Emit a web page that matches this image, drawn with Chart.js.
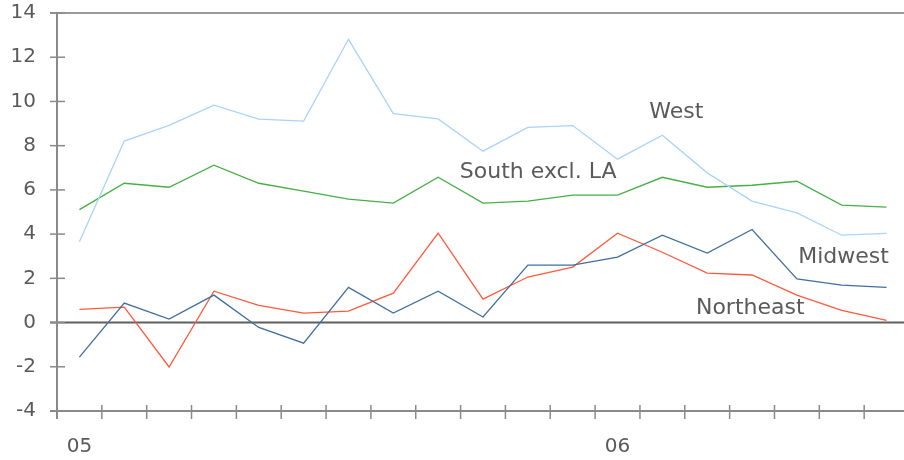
<!DOCTYPE html>
<html>
<head>
<meta charset="utf-8">
<script src="https://cdn.jsdelivr.net/npm/chart.js@4"></script>
<style>
  html, body { margin: 0; padding: 0; background: #fff; overflow: hidden; }
  #wrap { width: 909px; height: 460px; position: relative; }
</style>
</head>
<body>
<div id="wrap"><canvas id="c"></canvas></div>
<script>
// Months Jan 2005 .. Jul 2006
const categories = ['2005-01','2005-02','2005-03','2005-04','2005-05','2005-06','2005-07','2005-08','2005-09','2005-10','2005-11','2005-12',
                    '2006-01','2006-02','2006-03','2006-04','2006-05','2006-06','2006-07'];
const xTickLabels = ['05','','','','','','','','','','','','06','','','','','',''];
const yTicks = [-4, -2, 0, 2, 4, 6, 8, 10, 12, 14];

const west      = [3.65, 8.21, 8.92, 9.83, 9.20, 9.11, 12.81, 9.45, 9.21, 7.75, 8.83, 8.91, 7.39, 8.47, 6.77, 5.49, 4.96, 3.95, 4.03];
const south     = [5.11, 6.30, 6.12, 7.12, 6.30, 5.94, 5.58, 5.40, 6.57, 5.40, 5.49, 5.76, 5.76, 6.57, 6.12, 6.21, 6.39, 5.31, 5.22];
const midwest   = [-1.56, 0.88, 0.16, 1.24, -0.22, -0.93, 1.59, 0.43, 1.42, 0.25, 2.60, 2.60, 2.96, 3.95, 3.14, 4.21, 1.97, 1.69, 1.59];
const northeast = [0.60, 0.70, -2.01, 1.42, 0.78, 0.43, 0.52, 1.33, 4.04, 1.06, 2.06, 2.51, 4.04, 3.18, 2.24, 2.15, 1.24, 0.55, 0.10];

const seriesNames = ['West', 'South excl. LA', 'Midwest', 'Northeast'];
// label anchor positions in data coordinates (category index, value)
const labelX = [13.31, 10.23, 17.04, 14.96];
const labelY = [9.53, 6.81, 2.96, 0.66];

const colors = ['#a9d3fb', '#45b045', '#3f6f9e', '#ff5a3c'];
const TEXT = '#5a5a5a';
const FONT = '"DejaVu Sans", Verdana, sans-serif';

const axisPlugin = {
  id: 'axisDeco',
  beforeDatasetsDraw(chart) {
    const ctx = chart.ctx;
    const xs = chart.scales.x, ys = chart.scales.y;
    const ca = chart.chartArea;
    ctx.save();
    ctx.lineCap = 'butt';
    ctx.strokeStyle = '#9a9a9a';
    ctx.lineWidth = 2;
    const yTop = ys.getPixelForValue(yTicks[yTicks.length - 1]);
    ctx.beginPath(); ctx.moveTo(ca.left - 7, yTop); ctx.lineTo(chart.width + 10, yTop); ctx.stroke();
    ctx.strokeStyle = '#5f5f5f';
    const y0 = ys.getPixelForValue(0);
    ctx.beginPath(); ctx.moveTo(ca.left - 7, y0); ctx.lineTo(chart.width + 10, y0); ctx.stroke();
    ctx.strokeStyle = '#8a8a8a';
    const yBot = ys.getPixelForValue(yTicks[0]);
    ctx.beginPath(); ctx.moveTo(ca.left, yTop - 1); ctx.lineTo(ca.left, yBot + 8); ctx.stroke();
    ctx.beginPath(); ctx.moveTo(ca.left - 7, yBot); ctx.lineTo(chart.width + 10, yBot); ctx.stroke();
    ctx.lineWidth = 1.5;
    yTicks.forEach(v => {
      const y = ys.getPixelForValue(v);
      ctx.beginPath(); ctx.moveTo(ca.left - 7, y); ctx.lineTo(ca.left + 8, y); ctx.stroke();
    });
    const half = (xs.getPixelForValue(1) - xs.getPixelForValue(0)) / 2;
    for (let i = 0; i <= categories.length; i++) {
      const x = xs.getPixelForValue(i) - half;
      ctx.beginPath(); ctx.moveTo(x, yBot - 6); ctx.lineTo(x, yBot + 8); ctx.stroke();
    }
    ctx.restore();
  },
  afterDatasetsDraw(chart) {
    const ctx = chart.ctx;
    const xs = chart.scales.x, ys = chart.scales.y;
    ctx.save();
    ctx.fillStyle = TEXT;
    ctx.font = '22px ' + FONT;
    ctx.textAlign = 'center';
    ctx.textBaseline = 'middle';
    seriesNames.forEach((n, i) => {
      ctx.fillText(n, xs.getPixelForValue(labelX[i]), ys.getPixelForValue(labelY[i]));
    });
    ctx.restore();
  }
};

const mk = (label, data, color) => ({
  label, data, borderColor: color, backgroundColor: color,
  borderWidth: 1.3, pointRadius: 0, tension: 0, fill: false
});

new Chart(document.getElementById('c'), {
  type: 'line',
  data: {
    labels: categories,
    datasets: [
      mk(seriesNames[0], west, colors[0]),
      mk(seriesNames[1], south, colors[1]),
      mk(seriesNames[2], midwest, colors[2]),
      mk(seriesNames[3], northeast, colors[3])
    ]
  },
  options: {
    responsive: true,
    maintainAspectRatio: false,
    animation: false,
    layout: { autoPadding: false, padding: { top: 13, right: 0, left: 0, bottom: 0 } },
    plugins: { legend: { display: false }, tooltip: { enabled: false } },
    scales: {
      x: {
        offset: true,
        grid: { display: true, drawOnChartArea: false, drawTicks: false, color: 'rgba(0,0,0,0)' },
        border: { display: false },
        ticks: {
          autoSkip: false, maxRotation: 0, padding: 24,
          color: TEXT, font: { family: FONT, size: 20 },
          callback: (v, i) => xTickLabels[i]
        },
        afterFit: s => { s.height = 49; s.paddingLeft = 0; s.paddingRight = 0; }
      },
      y: {
        min: yTicks[0], max: yTicks[yTicks.length - 1],
        afterBuildTicks: s => { s.ticks = yTicks.map(v => ({ value: v })); },
        grid: { display: true, drawOnChartArea: false, drawTicks: false, color: 'rgba(0,0,0,0)' },
        border: { display: false },
        ticks: { padding: 21, color: TEXT, font: { family: FONT, size: 20 } },
        afterFit: s => { s.width = 57; s.paddingTop = 0; s.paddingBottom = 0; }
      }
    }
  },
  plugins: [axisPlugin]
});
</script>
</body>
</html>
